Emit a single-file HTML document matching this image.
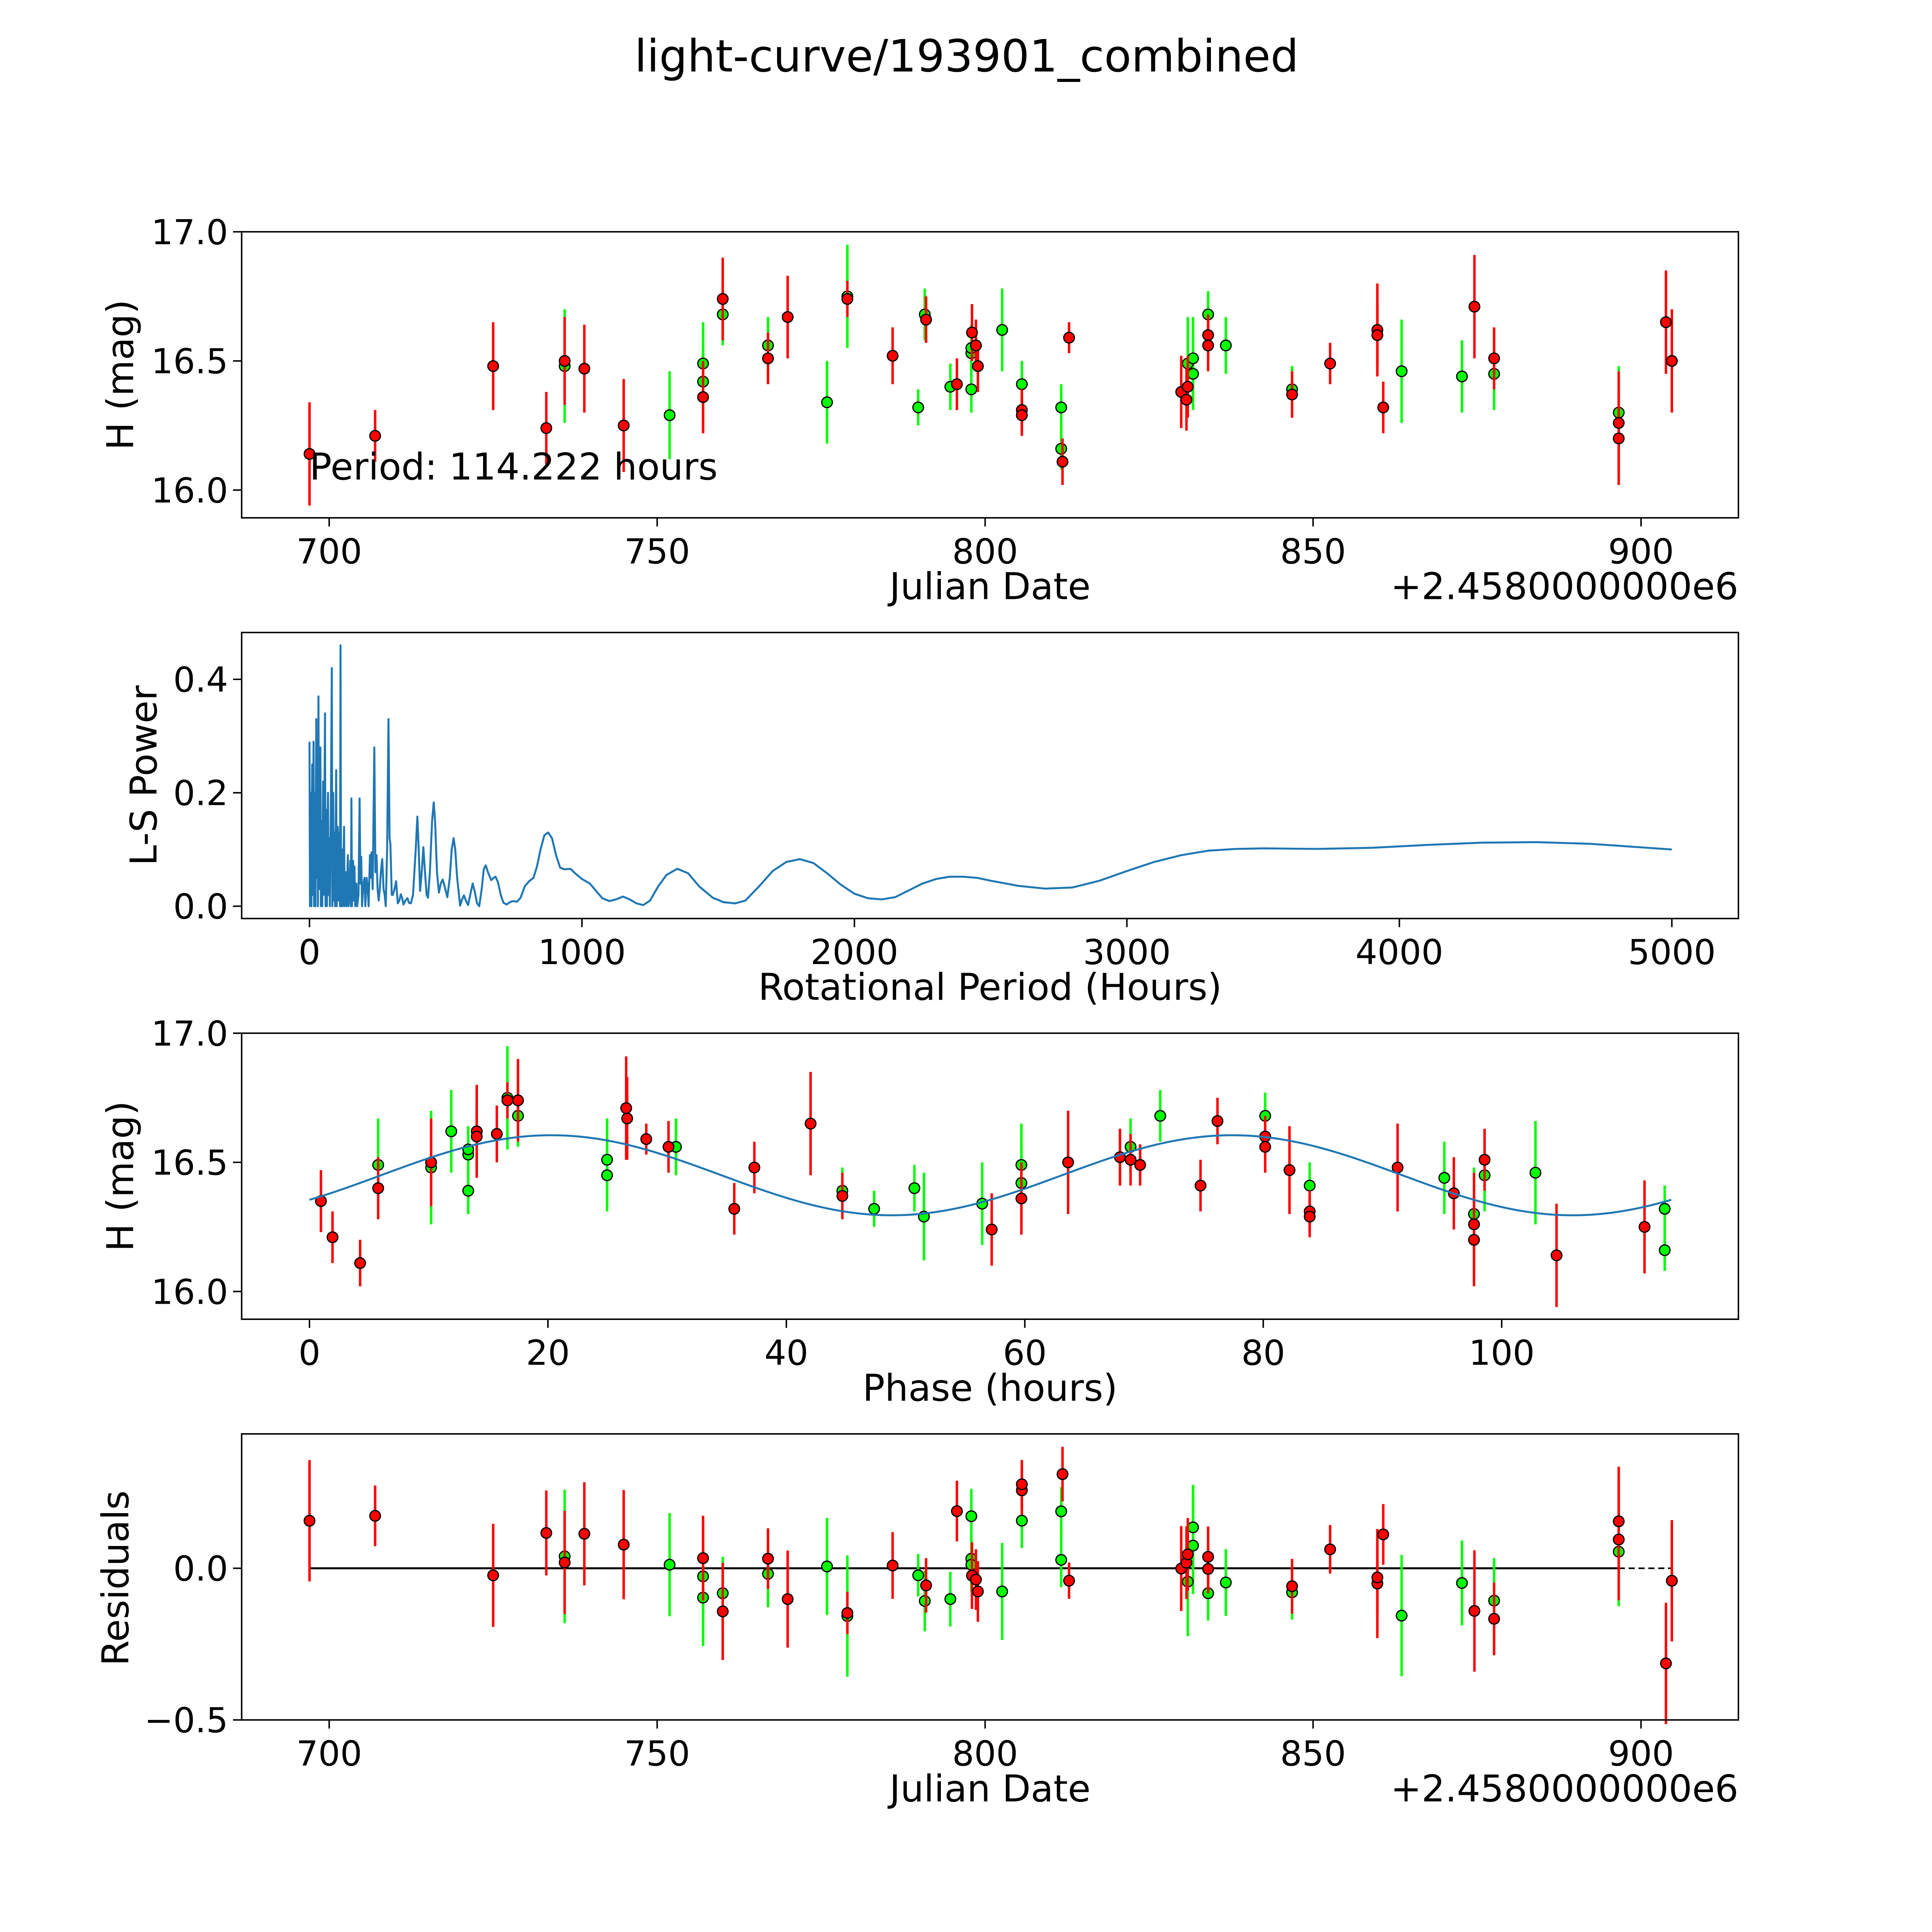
<!DOCTYPE html>
<html><head><meta charset="utf-8"><style>
html,body{margin:0;padding:0;background:#fff;overflow:hidden;width:100vw;height:100vh}
svg{display:block;width:100vw;height:100vh}
text{font-family:"DejaVu Sans","Liberation Sans",sans-serif;fill:#000}
</style></head><body>
<svg id="fig" xmlns="http://www.w3.org/2000/svg" viewBox="0 0 1567 1567" preserveAspectRatio="xMidYMid meet">
<rect x="0" y="0" width="1567" height="1567" fill="#fff"/>
<text x="784" y="58" font-size="36" text-anchor="middle">light-curve/193901_combined</text>
<g id="p1"></g>
<g id="p2"></g>
<g id="p3"></g>
<g id="p4"></g>
</svg>
<script>
// ---- data ----
const redDates=[697.0,707.0,725.0,733.1,735.9,738.9,744.9,757.0,760.0,766.9,769.9,779.0,785.9,791.0,795.7,798.0,798.9,798.6,805.6,805.6,811.8,812.8,829.9,830.7,830.9,834.0,834.0,846.8,852.6,859.8,859.8,860.7,874.6,877.6,896.6,896.6,903.8,904.7];
const redMags=[16.14,16.21,16.48,16.24,16.50,16.47,16.25,16.36,16.74,16.51,16.67,16.74,16.52,16.66,16.41,16.61,16.48,16.56,16.31,16.29,16.11,16.59,16.38,16.35,16.40,16.60,16.56,16.37,16.49,16.62,16.60,16.32,16.71,16.51,16.26,16.20,16.65,16.50];
const redErrs=[0.20,0.10,0.17,0.14,0.17,0.17,0.18,0.14,0.16,0.10,0.16,0.07,0.11,0.09,0.10,0.11,0.10,0.10,0.08,0.08,0.09,0.06,0.14,0.12,0.12,0.08,0.10,0.09,0.08,0.18,0.12,0.10,0.20,0.12,0.20,0.18,0.20,0.20];
const greenDates=[735.9,751.9,757.0,757.0,760.0,766.9,775.9,779.0,789.8,790.8,794.7,797.9,797.9,797.9,802.6,805.6,811.6,811.6,830.9,831.7,831.7,834.0,836.7,846.8,863.5,872.7,877.6,896.6];
const greenMags=[16.48,16.29,16.49,16.42,16.68,16.56,16.34,16.75,16.32,16.68,16.40,16.53,16.55,16.39,16.62,16.41,16.32,16.16,16.49,16.51,16.45,16.68,16.56,16.39,16.46,16.44,16.45,16.30];
const greenErrs=[0.22,0.17,0.16,0.16,0.12,0.11,0.16,0.20,0.07,0.10,0.09,0.09,0.09,0.09,0.16,0.09,0.09,0.08,0.18,0.16,0.14,0.09,0.11,0.09,0.20,0.14,0.14,0.18];
const periodHours=[114.222];
const phaseOffset=[104.6];
const fitParams=[16.45,0.155,6,57.111]; // mean, amplitude, phase shift (h), half period
const lsPeriods=[0,2,5,7,10,12,15,17,20,22,25,27,30,31,33,35,38,40,42,45,47,50,52,54,57,59,62,64,68,70,73,75,79,82,84,87,89,92,94,98,100,104,106,110,112,114,116,120,122,127,129,133,136,141,143,147,150,152,154,156,160,163,165,168,172,175,180,184,187,190,193,198,202,205,210,214,217,222,224,228,232,238,242,246,250,254,258,262,267,272,276,280,285,290,294,297,302,306,312,318,324,330,335,340,345,352,360,365,372,380,390,396,401,406,412,418,424,430,435,442,450,456,461,468,475,482,489,496,506,515,522,529,535,542,553,560,567,574,582,590,599,607,615,623,632,640,647,655,667,676,683,692,702,712,724,735,746,762,775,790,806,822,835,848,862,876,890,905,920,936,958,975,1000,1029,1050,1075,1100,1125,1151,1175,1200,1225,1250,1280,1310,1350,1390,1430,1480,1520,1563,1600,1650,1700,1750,1800,1850,1900,1950,2000,2050,2100,2150,2200,2250,2300,2350,2400,2450,2500,2600,2700,2800,2900,3000,3100,3200,3300,3400,3500,3700,3900,4100,4300,4500,4700,4850,5000];
const lsPower=[0.29,0,0.2,0,0.25,0.02,0.29,0,0.2,0,0.33,0.05,0.24,0,0.37,0.03,0.2,0.28,0,0.15,0,0.22,0.02,0.1,0.34,0,0.17,0,0.2,0.02,0.12,0,0.2,0.42,0,0.2,0.01,0.13,0,0.24,0,0.14,0.01,0.13,0,0.46,0,0.1,0,0.14,0,0.06,0,0.09,0,0.02,0.08,0,0.19,0,0.08,0.01,0.07,0,0.04,0,0.02,0.19,0.04,0.087,0,0.04,0.05,0,0.05,0.03,0,0.09,0.05,0.095,0.03,0.28,0.06,0.09,0.03,0.01,0.03,0.06,0.083,0.03,0.02,0,0.1,0.33,0.12,0.11,0.02,0.02,0.03,0.044,0.005,0.01,0.021,0.015,0.003,0.01,0.014,0.006,0.005,0.02,0.1,0.158,0.1,0.027,0.06,0.104,0.06,0.02,0.015,0.06,0.15,0.183,0.15,0.06,0.024,0.04,0.047,0.035,0.016,0.05,0.1,0.12,0.1,0.05,0.001,0.012,0.019,0.01,0.002,0.02,0.04,0.025,0.005,0,0.03,0.066,0.072,0.06,0.046,0.05,0.052,0.042,0.02,0.006,0.003,0.007,0.009,0.008,0.015,0.035,0.044,0.05,0.07,0.1,0.125,0.13,0.12,0.09,0.068,0.065,0.066,0.058,0.048,0.04,0.028,0.014,0.009,0.012,0.017,0.012,0.005,0.002,0.01,0.035,0.055,0.066,0.058,0.035,0.015,0.007,0.005,0.01,0.035,0.062,0.078,0.083,0.076,0.058,0.038,0.022,0.014,0.012,0.016,0.028,0.04,0.048,0.052,0.052,0.05,0.045,0.036,0.031,0.033,0.045,0.062,0.078,0.09,0.098,0.101,0.102,0.101,0.103,0.108,0.112,0.113,0.11,0.105,0.1];
const dateTicks=[700,750,800,850,900];
const magTicks=[16.0,16.5,17.0];
const magTickLabels=["16.0","16.5","17.0"];
const lsXTicks=[0,1000,2000,3000,4000,5000];
const lsYTicks=[0,0.2,0.4];
const lsYTickLabels=["0.0","0.2","0.4"];
const phaseTicks=[0,20,40,60,80,100];
const resTicks=[0,-0.5];
const resTickLabels=["0.0","\u22120.5"];
const zeroLineSolid=[697.0,896.6];
const zeroLineDashed=[896.6,904.7];

// ---- helpers ----
const NS="http://www.w3.org/2000/svg";
function mk(parent,tag,attrs){const e=document.createElementNS(NS,tag);for(const k in attrs)e.setAttribute(k,attrs[k]);parent.appendChild(e);return e;}
const L=196,R=1410;
const xDate=d=>267+(d-700)*5.32;
const xLS=p=>251+p*0.221;
const xPh=h=>251+h*9.67;
function yMag(top){return m=>top+(17-m)*209.5;}
const yLS=v=>735-v*460;
const yRes=v=>1272-v*246;
function model(ph){return fitParams[0]+fitParams[1]*Math.sin(2*Math.PI*(ph-fitParams[2])/fitParams[3]);}
function phaseOf(d){let p=((d-697.0)*24+phaseOffset[0])%periodHours[0];if(p<0)p+=periodHours[0];return p;}

function frame(g,top,bot){
  const r=mk(g,'rect',{x:L,y:top,width:R-L,height:bot-top,fill:'none',stroke:'#000','stroke-width':1.2});
  
  
}
function xticks(g,bot,vals,fx,labels){
  vals.forEach((v,i)=>{const x=fx(v);
    mk(g,'line',{x1:x,x2:x,y1:bot,y2:bot+7,stroke:'#000','stroke-width':1.2});
    const t=mk(g,'text',{x:x,y:bot+37,'font-size':28,'text-anchor':'middle'});
    
    
    t.textContent=labels?labels[i]:String(v);});
}
function yticks(g,vals,fy,labels){
  vals.forEach((v,i)=>{const y=fy(v);
    mk(g,'line',{x1:L-7,x2:L,y1:y,y2:y,stroke:'#000','stroke-width':1.2});
    const t=mk(g,'text',{x:L-11,y:y+10,'font-size':28,'text-anchor':'end'});
    
    
    t.textContent=labels[i];});
}
function label(g,txt,x,y,rot,name,anchor){
  const t=mk(g,'text',{x:x,y:y,'font-size':30,'text-anchor':anchor||'middle'});
  if(rot)t.setAttribute('transform','rotate(-90 '+x+' '+y+')');
  
  
  t.textContent=txt;
}
function points(g,xs,ys,es,fx,fy,color,name){
  xs.forEach((xv,i)=>{const x=fx(xv);
    const b=mk(g,'line',{x1:x,x2:x,y1:fy(ys[i]+es[i]),y2:fy(ys[i]-es[i]),stroke:color==='red'?'#ff0000':'#00ff00','stroke-width':2});
    
    
  });
  xs.forEach((xv,i)=>{const x=fx(xv),y=fy(ys[i]);
    const c=mk(g,'circle',{cx:x,cy:y,r:4.3,fill:color==='red'?'#ff0000':'#00ff00',stroke:'#000','stroke-width':1});
    
    
  });
}

// ---- panel 1 ----
(function(){
  const g=document.getElementById('p1');const ym=yMag(188);
  points(g,greenDates,greenMags,greenErrs,xDate,ym,'green','green');
  points(g,redDates,redMags,redErrs,xDate,ym,'red','red');
  frame(g,188,420);
  xticks(g,420,dateTicks,xDate);
  yticks(g,magTicks,ym,magTickLabels);
  label(g,'Julian Date',803,486,false,'x-axis-title');
  label(g,'+2.4580000000e6',1410,486,false,'x-axis-offset','end');
  label(g,'H (mag)',108,304,true,'y-axis-title');
  const t=mk(g,'text',{x:251,y:389,'font-size':30});
  
  
  t.textContent='Period: 114.222 hours';
})();

// ---- panel 2 ----
(function(){
  const g=document.getElementById('p2');
  const d=lsPeriods.map((p,i)=>(i?'L':'M')+xLS(p).toFixed(2)+' '+yLS(lsPower[i]).toFixed(2)).join(' ');
  const p=mk(g,'path',{d:d,fill:'none',stroke:'#1f77b4','stroke-width':1.6,'stroke-linejoin':'round'});
  
  
  frame(g,513,745);
  xticks(g,745,lsXTicks,xLS);
  yticks(g,lsYTicks,yLS,lsYTickLabels);
  label(g,'Rotational Period (Hours)',803,811,false,'x-axis-title');
  label(g,'L-S Power',127,629,true,'y-axis-title');
})();

// ---- panel 3 ----
(function(){
  const g=document.getElementById('p3');const ym=yMag(838);
  const pts=[];for(let i=0;i<=200;i++){const h=periodHours[0]*i/200;pts.push((i?'L':'M')+xPh(h).toFixed(2)+' '+ym(model(h)).toFixed(2));}
  points(g,greenDates.map(phaseOf),greenMags,greenErrs,xPh,ym,'green','green-phase');
  points(g,redDates.map(phaseOf),redMags,redErrs,xPh,ym,'red','red-phase');
  const p=mk(g,'path',{d:pts.join(' '),fill:'none',stroke:'#1f77b4','stroke-width':1.6});
  
  
  frame(g,838,1070);
  xticks(g,1070,phaseTicks,xPh);
  yticks(g,magTicks,ym,magTickLabels);
  label(g,'Phase (hours)',803,1136,false,'x-axis-title');
  label(g,'H (mag)',108,954,true,'y-axis-title');
})();

// ---- panel 4 ----
(function(){
  const g=document.getElementById('p4');
  const s=mk(g,'line',{x1:xDate(zeroLineSolid[0]),x2:xDate(zeroLineSolid[1]),y1:yRes(0),y2:yRes(0),stroke:'#000','stroke-width':1.6});
  
  
  const dl=mk(g,'line',{x1:xDate(zeroLineDashed[0]),x2:xDate(zeroLineDashed[1]),y1:yRes(0),y2:yRes(0),stroke:'#000','stroke-width':1.3,'stroke-dasharray':'5 3'});
  
  
  const gr=greenDates.map((d,i)=>model(phaseOf(d))-greenMags[i]);
  const rr=redDates.map((d,i)=>model(phaseOf(d))-redMags[i]);
  points(g,greenDates,gr,greenErrs,xDate,yRes,'green','green-residual');
  points(g,redDates,rr,redErrs,xDate,yRes,'red','red-residual');
  frame(g,1163,1395);
  xticks(g,1395,dateTicks,xDate);
  yticks(g,resTicks,yRes,resTickLabels);
  label(g,'Julian Date',803,1461,false,'x-axis-title');
  label(g,'+2.4580000000e6',1410,1461,false,'x-axis-offset','end');
  label(g,'Residuals',104,1280,true,'y-axis-title');
})();
</script>
</body></html>
